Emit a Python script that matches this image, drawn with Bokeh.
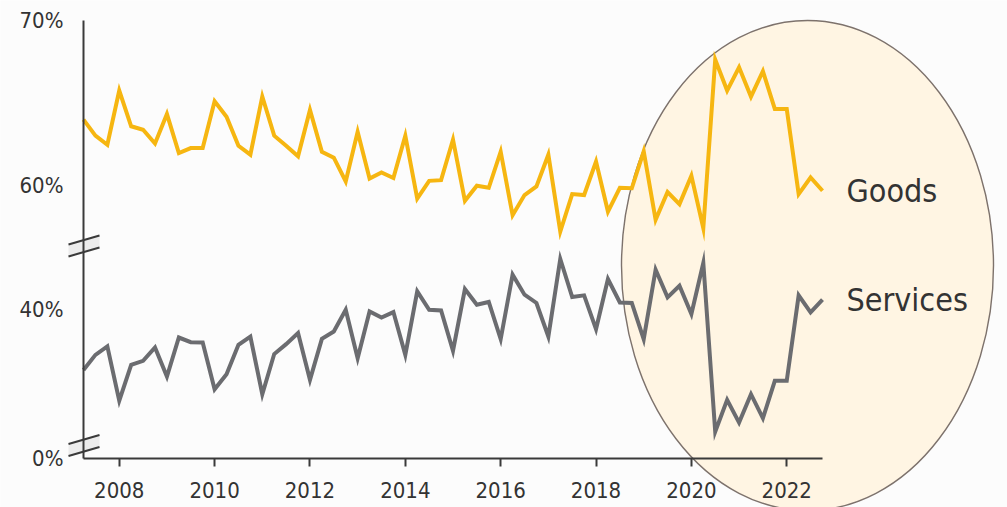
import numpy as np
from bokeh.plotting import figure
from bokeh.models import Range1d, FixedTicker, Label
from bokeh.embed import file_html
from bokeh.resources import INLINE

# ---------------- data (quarterly, 2007Q2 .. 2022Q4), shares in % ----------------
first_quarter = 2007.25
goods = [64.0, 63.03, 62.48, 65.76, 63.6, 63.39, 62.56, 64.34, 61.98, 62.28,
         62.28, 65.11, 64.18, 62.42, 61.88, 65.4, 63.03, 62.42, 61.78, 64.59,
         62.06, 61.7, 60.26, 63.27, 60.44, 60.81, 60.47, 63.03, 59.23, 60.3,
         60.34, 62.79, 59.09, 60.0, 59.88, 62.06, 58.22, 59.44, 59.96, 61.88,
         57.23, 59.5, 59.44, 61.47, 58.44, 59.88, 59.85, 62.08, 57.94, 59.62,
         58.89, 60.61, 57.44, 67.64, 65.76, 67.17, 65.39, 66.93, 64.65, 64.65,
         59.5, 60.5, 59.7]
services = [36.36, 37.27, 37.78, 34.5, 36.67, 36.91, 37.72, 35.96, 38.32, 38.04,
            38.02, 35.19, 36.1, 37.88, 38.38, 34.89, 37.32, 37.92, 38.59, 35.76,
            38.24, 38.68, 40.0, 37.07, 39.9, 39.53, 39.86, 37.27, 41.11, 40.0,
            39.96, 37.52, 41.25, 40.3, 40.47, 38.22, 42.12, 40.91, 40.41, 38.38,
            43.07, 40.77, 40.87, 38.83, 41.86, 40.44, 40.41, 38.22, 42.42, 40.75,
            41.45, 39.74, 42.83, 32.62, 34.55, 33.17, 34.89, 33.44, 35.7, 35.7,
            40.87, 39.84, 40.61]
x_tick_years = [2008, 2010, 2012, 2014, 2016, 2018, 2020, 2022]
y_tick_labels_goods = {70: "70%", 60: "60%"}
y_tick_labels_services = {40: "40%"}
series_names = ["Goods", "Services"]

years = [first_quarter + 0.25 * i for i in range(len(goods))]

# ---------------- layout ----------------
W, H = 1007, 507
AX_L, AX_R, AX_T, AX_B = 83, 822, 20, 458      # axes box in page pixels
X0, X1 = years[0], years[-1]
G0, G1 = 43.5, 70.0          # upper (goods) part of the broken axis
S0, S1 = 31.0, 57.5          # lower (services) part, same span
OFF = G0 - S0

ppx = (AX_R - AX_L) / (X1 - X0)        # pixels per year
ppy = (AX_B - AX_T) / (G1 - G0)        # pixels per percentage point

x_rng = Range1d(X0 - AX_L / ppx, X1 + (W - AX_R) / ppx)
g_rng = Range1d(G0 - (H - AX_B) / ppy, G1 + AX_T / ppy)
s_rng = Range1d(S0 - (H - AX_B) / ppy, S1 + AX_T / ppy)

BG = "#fcfcfc"
GOLD = "#f6b611"
GREY = "#6b6c70"
AXIS = "#3a3a3a"
TXT = "#333333"
FONT = "Liberation Sans Narrow, DejaVu Sans Condensed, Roboto, sans-serif"

p = figure(width=W, height=H, output_backend="svg", toolbar_location=None,
           x_range=x_rng, y_range=g_rng,
           min_border_left=0, min_border_right=0, min_border_top=0, min_border_bottom=0,
           background_fill_color=BG, border_fill_color=BG, outline_line_color=None)
p.extra_y_ranges = {"services": s_rng}
p.grid.visible = False

def dxp(px):
    return X0 + (px - AX_L) / ppx
def dyp(py):
    return G1 - (py - AX_T) / ppy

# highlight ellipse
cx, cy, ra, rb = 807, 265, 186, 245
p.ellipse(x=dxp(cx), y=dyp(cy), width=2 * ra / ppx, height=2 * rb / ppy,
          fill_color="#fff5e3", line_color="#7d726c", line_width=1.4)

# axis-break marks
for yc in (250, 449.5):
    p.patch([dxp(68), dxp(99), dxp(99), dxp(68)],
            [dyp(yc - 6), dyp(yc - 15), dyp(yc - 3), dyp(yc + 6)],
            fill_color="#ececec", line_color=None)
    for d in (-6, 6):
        p.segment(x0=[dxp(68)], y0=[dyp(yc + d)], x1=[dxp(99)], y1=[dyp(yc + d - 9)],
                  line_color=AXIS, line_width=2)

# series lines
p.line(years, goods, line_color=GOLD, line_width=4, line_join="miter")
p.line(years, services, y_range_name="services", line_color=GREY, line_width=4,
       line_join="miter")

# axes (fixed at the data origin, limited by bounds)
xa = p.xaxis[0]
xa.fixed_location = G0
xa.bounds = (X0, X1)
xa.ticker = FixedTicker(ticks=x_tick_years)
xa.axis_line_color = AXIS
xa.axis_line_width = 2
xa.major_tick_line_color = AXIS
xa.major_tick_line_width = 2
xa.major_tick_out = 8
xa.major_tick_in = 0
xa.minor_tick_line_color = None
xa.major_label_standoff = 15
xa.major_label_text_font = FONT
xa.major_label_text_font_size = "22px"
xa.major_label_text_color = TXT

ya = p.yaxis[0]
ya.fixed_location = X0
ya.bounds = (G0, G1)
ticks, overrides = [], {}
for v, s in y_tick_labels_goods.items():
    ticks.append(float(v)); overrides[float(v)] = s
for v, s in y_tick_labels_services.items():
    ticks.append(float(v + OFF)); overrides[float(v + OFF)] = s
ticks.append(float(S0 + OFF)); overrides[float(S0 + OFF)] = "0%"
ya.ticker = FixedTicker(ticks=sorted(ticks))
ya.major_label_overrides = overrides
ya.axis_line_color = AXIS
ya.axis_line_width = 2
ya.major_tick_line_color = None
ya.major_tick_out = 0
ya.major_tick_in = 0
ya.minor_tick_line_color = None
ya.major_label_standoff = 20
ya.major_label_text_font = FONT
ya.major_label_text_font_size = "22px"
ya.major_label_text_color = TXT

# series labels at the line ends
p.add_layout(Label(x=years[-1], y=goods[-1], x_offset=24, text=series_names[0],
                   text_baseline="middle", text_font=FONT, text_font_size="32px",
                   text_color=TXT))
p.add_layout(Label(x=years[-1], y=services[-1], x_offset=24, text=series_names[1],
                   y_range_name="services", text_baseline="middle", text_font=FONT,
                   text_font_size="32px", text_color=TXT))

open("out.html", "w").write(file_html(p, INLINE))
